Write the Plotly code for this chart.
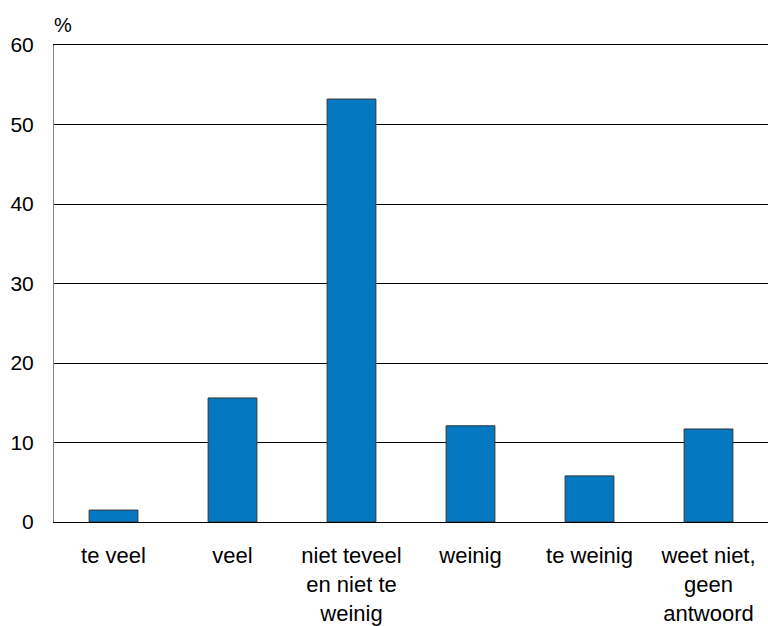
import plotly.graph_objects as go

categories = [
    "te veel",
    "veel",
    "niet teveel<br>en niet te<br>weinig",
    "weinig",
    "te weinig",
    "weet niet,<br>geen<br>antwoord",
]
values = [1.5, 15.6, 53.2, 12.1, 5.8, 11.7]
y_ticks = [0, 10, 20, 30, 40, 50, 60]

fig = go.Figure()
fig.add_trace(go.Bar(
    x=categories, y=values,
    marker=dict(color="#0479c2", line=dict(color="#333333", width=1)),
    width=0.41,
))

fig.update_layout(
    width=768, height=626,
    margin=dict(l=54, r=0, t=45, b=102),
    plot_bgcolor="white", paper_bgcolor="white",
    font=dict(family="Liberation Sans, Arial, sans-serif", color="black"),
    showlegend=False,
    annotations=[dict(
        text="%", x=0, y=1, xref="paper", yref="paper",
        xanchor="left", yanchor="bottom", xshift=-2, yshift=7,
        showarrow=False, font=dict(size=20),
    )],
)
fig.update_yaxes(
    range=[0, 60], tickvals=y_ticks, showgrid=True, gridcolor="black", gridwidth=1,
    showline=True, linecolor="#808080", linewidth=1, zeroline=False,
    tickfont=dict(size=21), ticks="", ticklabelstandoff=15,
)
fig.update_xaxes(
    showline=True, mirror=True, linecolor="black", linewidth=1, showgrid=False,
    tickfont=dict(size=22), ticks="", ticklabelstandoff=14,
)

# drop the default 8px body margin so the figure fills the window
fig.write_html(
    "out.html",
    config={"displayModeBar": False},
    post_script="document.body.style.margin='0';document.body.style.overflow='hidden';",
)
